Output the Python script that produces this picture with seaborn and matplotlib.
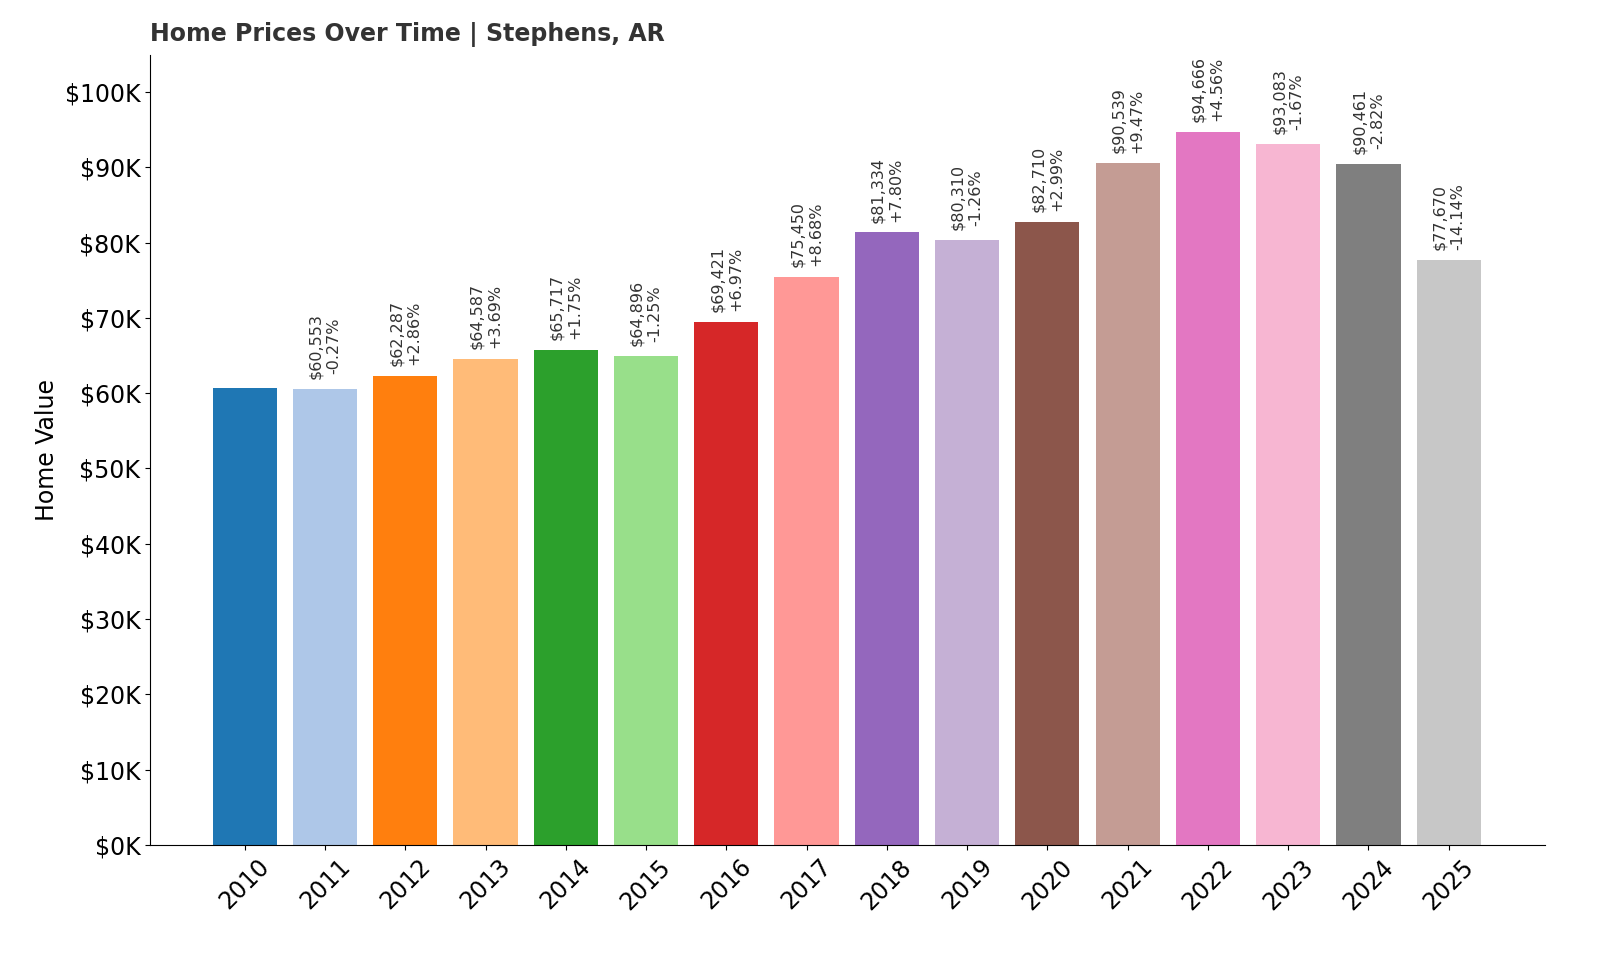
import matplotlib
matplotlib.use("Agg")
import matplotlib.pyplot as plt
import seaborn as sns
import pandas as pd

years = [str(y) for y in range(2010, 2026)]
values = [60717, 60553, 62287, 64587, 65717, 64896, 69421, 75450, 81334, 80310,
          82710, 90539, 94666, 93083, 90461, 77670]
changes = [None, -0.27, 2.86, 3.69, 1.75, -1.25, 6.97, 8.68, 7.80, -1.26,
           2.99, 9.47, 4.56, -1.67, -2.82, -14.14]

df = pd.DataFrame({"Year": years, "Value": values})
colors = sns.color_palette("tab20", 16)

fig = plt.figure(figsize=(16, 9.6), dpi=100)
ax = fig.add_axes([150/1600, 1-845/960, 1395/1600, 790/960])
sns.barplot(data=df, x="Year", y="Value", hue="Year", palette=colors,
            legend=False, width=0.8, ax=ax, saturation=1)
for i, (v, c) in enumerate(zip(values, changes)):
    if c is None:
        continue
    ax.text(i, v + 1300, f"${v:,}\n{c:+.2f}%", rotation=90, ha="center",
            va="bottom", fontsize=11.5, color="#333333", linespacing=1.25)
ax.set_ylim(0, 104900)
ax.set_xlim(-1.18, 16.2)
ax.set_yticks(range(0, 100001, 10000))
ax.set_yticklabels([f"${t//1000}K" for t in range(0, 100001, 10000)], fontsize=17)
ax.tick_params(axis="x", labelsize=17, rotation=45)
ax.set_xlabel("")
ax.set_ylabel("Home Value", fontsize=17)
for s in ["top", "right"]:
    ax.spines[s].set_visible(False)
ax.set_title("Home Prices Over Time | Stephens, AR", loc="left", fontsize=17,
             fontweight="bold", color="#333333", pad=10)
fig.savefig("out.png", dpi=100)
